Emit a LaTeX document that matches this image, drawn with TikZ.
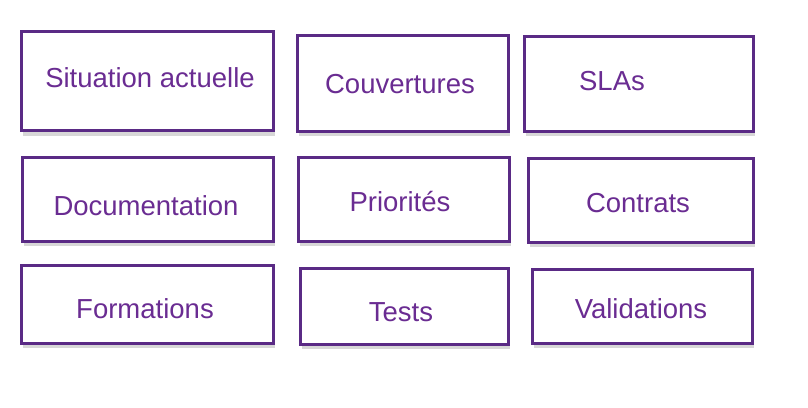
\documentclass[tikz,border=0pt]{standalone}
\usepackage{fontspec}
\setmainfont{Liberation Sans}
\usepackage{xcolor}
\usetikzlibrary{shadows}
\definecolor{boxpurple}{HTML}{5A2A85}
\definecolor{txtpurple}{HTML}{6A2C92}
\tikzset{
  topic/.style={draw=boxpurple, line width=3pt, fill=white, inner sep=0pt,
    drop shadow={shadow xshift=2pt, shadow yshift=-5pt, fill=gray!70, opacity=0.45}},
  caption/.style={text=txtpurple, inner sep=0pt, text height=19.5pt, text depth=0pt,
    font=\fontsize{27.5}{32}\selectfont}
}
\begin{document}
\begin{tikzpicture}[scale=1.000000,x=1pt,y=-1pt]
\useasboundingbox (0.000000, 0.000000) rectangle (808.000000, 407.000000);
% Row 1
\node[topic, minimum width=252pt, minimum height=99pt] (situation) at (147.000000, 81.000000) {};
\node[caption] (situationtxt) at (150.000000, 78.000000) {Situation actuelle};
\node[topic, minimum width=211pt, minimum height=96pt] (couv) at (402.500000, 83.000000) {};
\node[caption] (couvtxt) at (400.000000, 84.000000) {Couvertures};
\node[topic, minimum width=229pt, minimum height=95pt] (slas) at (638.500000, 83.500000) {};
\node[caption] (slastxt) at (612.000000, 81.000000) {SLAs};
% Row 2
\node[topic, minimum width=251pt, minimum height=84pt] (doc) at (147.500000, 199.000000) {};
\node[caption] (doctxt) at (146.000000, 206.000000) {Documentation};
\node[topic, minimum width=211pt, minimum height=84pt] (prio) at (403.500000, 199.000000) {};
\node[caption] (priotxt) at (400.000000, 202.000000) {Priorités};
\node[topic, minimum width=225pt, minimum height=84pt] (contrats) at (640.500000, 200.000000) {};
\node[caption] (contratstxt) at (638.000000, 203.000000) {Contrats};
% Row 3
\node[topic, minimum width=252pt, minimum height=78pt] (form) at (147.000000, 304.000000) {};
\node[caption] (formtxt) at (145.000000, 309.000000) {Formations};
\node[topic, minimum width=208pt, minimum height=76pt] (tests) at (404.000000, 306.000000) {};
\node[caption] (teststxt) at (401.000000, 312.000000) {Tests};
\node[topic, minimum width=220pt, minimum height=74pt] (valid) at (642.000000, 306.000000) {};
\node[caption] (validtxt) at (641.000000, 309.000000) {Validations};
\end{tikzpicture}
\end{document}
